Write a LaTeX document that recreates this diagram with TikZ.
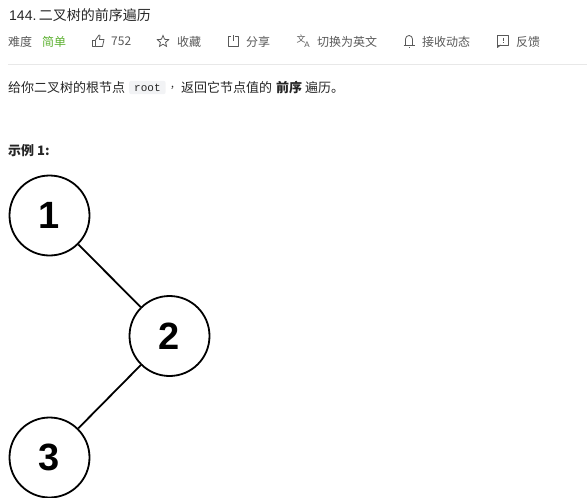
\documentclass[tikz,border=0pt]{standalone}
\usepackage{fontspec}
\setmainfont{Liberation Sans}
\setmonofont{Liberation Mono}
\newfontfamily\cjk{Noto Sans CJK SC}
\usetikzlibrary{positioning, shapes.geometric}

\definecolor{titlegray}{HTML}{262626}
\definecolor{metagray}{HTML}{595959}
\definecolor{easygreen}{HTML}{5CB030}
\definecolor{rulegray}{HTML}{E8E8E8}
\definecolor{codebg}{HTML}{F2F3F5}

\tikzset{
	title/.style={anchor=west, inner sep=0pt, text=titlegray, font=\cjk\fontsize{14}{16}\selectfont},
	meta/.style={anchor=west, inner sep=0pt, text=metagray, font=\cjk\fontsize{12}{14}\selectfont},
	body/.style={anchor=west, inner sep=0pt, text=titlegray, font=\cjk\fontsize{13}{15}\selectfont},
	icon/.style={draw=metagray, line width=0.8pt, line join=round},
	treenode/.style={circle, draw, line width=1.8pt, minimum size=80pt, inner sep=0pt, font=\bfseries\fontsize{38}{42}\selectfont},
	treeedge/.style={line width=1.8pt},
}

\begin{document}
\begin{tikzpicture}[x=1pt, y=-1pt]
	\useasboundingbox (0,0) rectangle (587,498);

	% header
	\node[title] (name) at (9,15) {{\rmfamily 144.}\hspace{2.5pt}二叉树的前序遍历};
	\node[meta] (level) at (8,41.5) {难度};
	\node[meta, text=easygreen] (easy) at (42,41.5) {简单};
	\node[meta] (likes) at (111,41.5) {752};
	\node[meta] (fav) at (177,41.5) {收藏};
	\node[meta] (share) at (246,41.5) {分享};
	\node[meta] (lang) at (317,41.5) {切换为英文};
	\node[meta] (notify) at (422,41.5) {接收动态};
	\node[meta] (report) at (516,41.5) {反馈};

	% icons
	\draw[icon] (92.5,40) rectangle (95.5,46.5);
	\draw[icon] (95.5,40) -- (99,35) -- (100,35.5) -- (99.5,39.5) -- (104,39.5) -- (102.5,46.5) -- (95.5,46.5);
	\node[star, star points=5, star point ratio=2.2, draw=metagray, line width=0.8pt, minimum size=12pt, inner sep=0pt] (staricon) at (163,41.5) {};
	\draw[icon] (231,36) -- (228,36) -- (228,46) -- (238,46) -- (238,36) -- (235,36);
	\draw[icon] (233,35) -- (233,41);
	\node[anchor=center, inner sep=0pt, text=metagray, font=\cjk\fontsize{9}{9}\selectfont] (langicona) at (301,39) {文};
	\node[anchor=center, inner sep=0pt, text=metagray, font=\fontsize{8}{9}\selectfont] (langiconb) at (307,44.5) {A};
	\draw[icon] (405.5,45) -- (405.5,39) arc[start angle=180, end angle=360, radius=3.5] -- (412.5,45);
	\draw[icon] (403.5,45) -- (414.5,45);
	\draw[icon] (409,36) -- (409,35);
	\draw[icon] (409,47) -- (409,48);
	\draw[icon] (497.5,35.5) rectangle (508.5,45);
	\draw[icon] (497.5,45) -- (497.5,47.5) -- (500.5,45);
	\draw[icon] (503,37.5) -- (503,40.5);
	\draw[icon] (503,42) -- (503,43);

	\coordinate (ruleleft) at (8,64.5);
	\coordinate (ruleright) at (587,64.5);
	\draw[rulegray, line width=0.8pt] (ruleleft) -- (ruleright);

	% question text
	\node[body] (ask) at (8,87.5) {给你二叉树的根节点};
	\node[anchor=west, fill=codebg, rounded corners=2pt, inner xsep=5pt, inner ysep=3pt, text=titlegray, font=\ttfamily\fontsize{11}{13}\selectfont] (root) at (129,87.5) {root};
	\node[body, font=\cjk\fontsize{10}{15}\selectfont] (comma) at (170,87.5) {，};
	\node[body] (ask2) at (181,87.5) {返回它节点值的};
	\node[body, font=\cjk\bfseries\fontsize{13}{15}\selectfont] (pre) at (276,87.5) {前序};
	\node[body] (ask3) at (305,87.5) {遍历。};
	\node[body, font=\cjk\bfseries\fontsize{13}{15}\selectfont] (example) at (8,151) {示例 1:};

	% tree
	\node[treenode] (one) at (49.5,215.5) {1};
	\node[treenode] (two) at (169.5,336) {2};
	\node[treenode] (three) at (49.5,457.5) {3};

	\draw[treeedge] (one) -- (two);
	\draw[treeedge] (two) -- (three);
\end{tikzpicture}
\end{document}
